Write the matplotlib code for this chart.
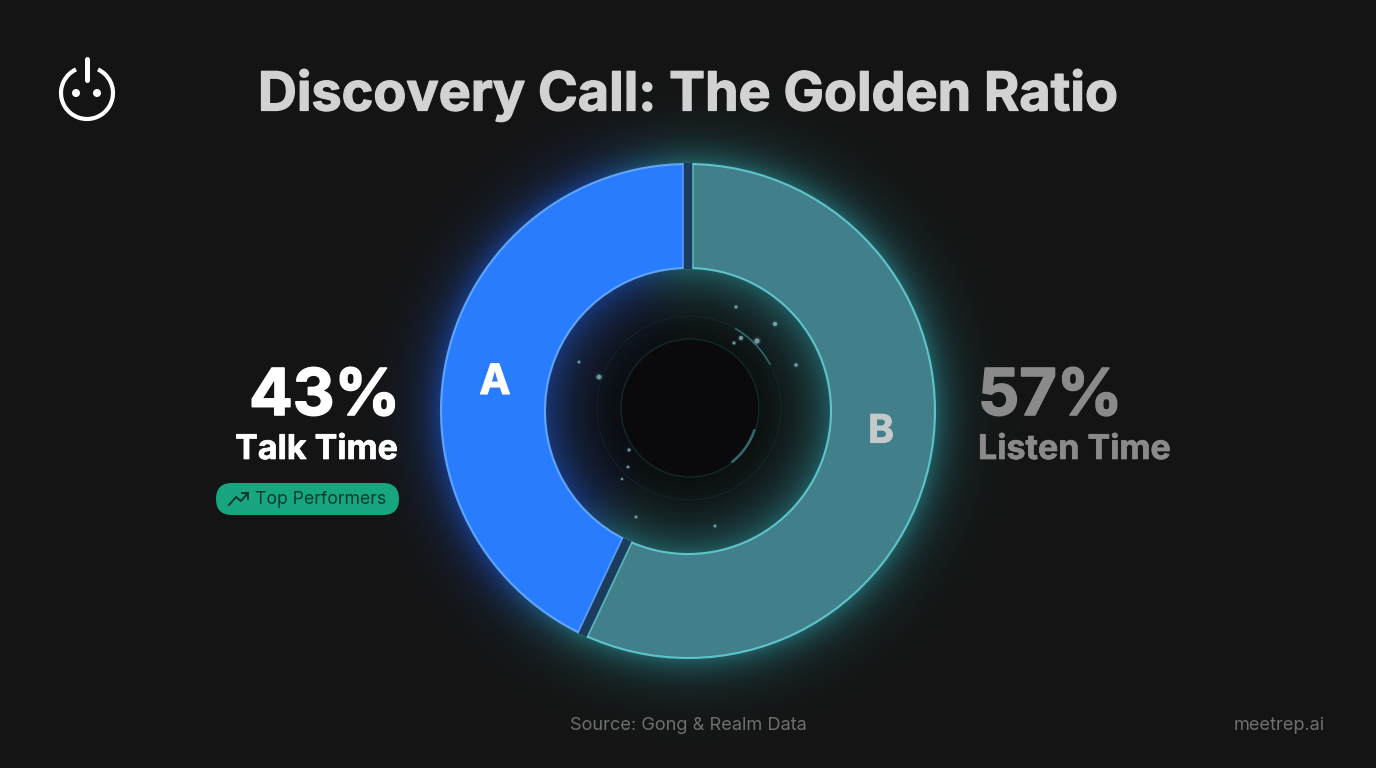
import numpy as np
import matplotlib
matplotlib.use('Agg')
import matplotlib.pyplot as plt
import matplotlib.patheffects as pe
from matplotlib.colors import to_rgba
from matplotlib.patches import Arc, Circle, FancyBboxPatch

W = 1376
H = 768

labels = ['A', 'B']
shares = [43, 57]
names = ['Talk Time', 'Listen Time']
title = 'Discovery Call: The Golden Ratio'
badge = 'Top Performers'
source = 'Source: Gong & Realm Data'
site = 'meetrep.ai'

# little specks in the middle of the hole (x, y in px, size)
specks_x = [599, 741, 757, 775, 736, 734, 796, 579, 629, 628, 622, 636, 715]
specks_y = [377, 338, 341, 324, 307, 343, 365, 362, 450, 467, 479, 517, 526]
specks_s = [12, 9, 14, 9, 5, 5, 6, 4, 5, 4, 3, 4, 4]

cx, cy = 688, 411
R = 247
r_in = 143
blue = '#2a7cff'
teal = '#41808a'
blue_edge = '#6cb2ff'
teal_edge = '#66d4da'

def Y(y):
    return H - y

# thicker letters, Inter bold is lighter than the original face
def heavy(lw=1.0):
    return [pe.Stroke(linewidth=lw), pe.Normal()]

plt.rcParams['font.family'] = ['Inter', 'DejaVu Sans']

fig = plt.figure(figsize=(W / 100, H / 100), dpi=100, facecolor='#141414')
ax = fig.add_axes([0, 0, 1, 1])
ax.set_facecolor('#141414')

# glow round the ring, blue on the A side and teal on the B side
xx, yy = np.meshgrid(np.arange(W) + 0.5, np.arange(H) + 0.5)
dx = xx - cx
dy = cy - yy
rr = np.hypot(dx, dy)
ang = np.degrees(np.arctan2(dy, dx)) % 360
a_start = 90
a_end = 90 + shares[0] * 3.6
mix = np.clip((ang - a_start) / 25, 0, 1) * np.clip((a_end - ang) / 25, 0, 1)
mix = mix[..., None]
glow_col = mix * np.array([28, 95, 235]) + (1 - mix) * np.array([45, 165, 175])
outer = np.exp(-np.clip(rr - R, 0, None) / 20) * 0.5 * (rr >= R)
inner = np.exp(-np.clip(r_in - rr, 0, None) / 28) * 0.47 * (rr <= r_in)
amt = (outer + inner)[..., None]
base = np.array([20, 20, 20]) * (1 - 0.55 * np.exp(-(rr / 105) ** 4))[..., None]
img = base * (1 - amt) + glow_col * amt
ax.imshow(img.astype(np.uint8), extent=(0, W, 0, H), origin='upper', zorder=0, interpolation='bilinear')

# faint rings in the hole
ax.add_patch(Circle((cx + 2, Y(408)), 69, fc='#0a0a0c', ec='#12292c', lw=1, zorder=1))
ax.add_patch(Circle((cx + 1, Y(408)), 92, fc='none', ec='#1c3a40', lw=0.6, alpha=0.45, zorder=1))
ax.add_patch(Arc((cx + 1, Y(408)), 138, 138, theta1=-52, theta2=-18, ec='#4f9ea3', lw=1.8, alpha=0.6, zorder=2))
ax.add_patch(Arc((cx + 1, Y(408)), 184, 184, theta1=28, theta2=60, ec='#3f8f96', lw=1.3, alpha=0.6, zorder=2))
ax.scatter(specks_x, [Y(v) for v in specks_y], s=[v * 3 for v in specks_s], color='#6fc8d2', alpha=0.12, lw=0, zorder=3)
ax.scatter(specks_x, [Y(v) for v in specks_y], s=specks_s, color='#a9e3ea', alpha=0.6, lw=0, zorder=3)

# the ring
wedges, _ = ax.pie(shares, colors=[blue, teal], startangle=90, counterclock=True, center=(cx, Y(cy)), radius=R,
                   wedgeprops=dict(width=R - r_in, lw=0), frame=True)
for w, edge in zip(wedges, [blue_edge, teal_edge]):
    w.set_zorder(4)
    w.set_edgecolor(to_rgba(edge, 0.85))
    w.set_linewidth(1.5)

# gaps between the slices, with a thin bright side on each
for bound, col_l, col_r in [(90, teal_edge, blue_edge), (a_end, blue_edge, teal_edge)]:
    t = np.radians(bound)
    ux, uy = np.cos(t), np.sin(t)
    nx, ny = -uy, ux
    r0, r1 = r_in - 1, R + 1
    xs = [cx + r0 * ux, cx + r1 * ux]
    ys = [Y(cy) + r0 * uy, Y(cy) + r1 * uy]
    ax.plot(xs, ys, color='#1b3c5c', lw=9.5 * 0.72, solid_capstyle='butt', zorder=5)
    for off, c in [(-5.2, col_l), (5.2, col_r)]:
        ax.plot([v + off * nx for v in xs], [v + off * ny for v in ys], color=c, lw=1.3, alpha=0.65,
                solid_capstyle='butt', zorder=6)

ax.text(495, Y(383), labels[0], color='white', fontsize=30, fontweight='bold', ha='center', va='center', zorder=7,
        path_effects=heavy(0.8))
ax.text(881, Y(432), labels[1], color='#c4c9cc', fontsize=28, fontweight='bold', ha='center', va='center', zorder=7,
        path_effects=heavy(0.8))

ax.text(688, Y(95), title, color='#d2d2d2', fontsize=38.8, fontweight='bold', ha='center', va='center',
        path_effects=heavy(0.9))

ax.text(400, Y(398), '%d%%' % shares[0], color='white', fontsize=46.5, fontweight='bold', ha='right', va='center',
        path_effects=heavy(1.2))
ax.text(398, Y(450), names[0], color='white', fontsize=24.5, fontweight='bold', ha='right', va='center',
        path_effects=heavy(0.5))
ax.text(978, Y(398), '%d%%' % shares[1], color='#8a8a8a', fontsize=46.5, fontweight='bold', ha='left', va='center',
        path_effects=heavy(1.2))
ax.text(978, Y(450), names[1], color='#8a8a8a', fontsize=24.5, fontweight='bold', ha='left', va='center',
        path_effects=heavy(0.5))

ax.add_patch(FancyBboxPatch((216 + 16, Y(515) + 16), 183 - 32, 0.01,
                            boxstyle='round,pad=16,rounding_size=16', fc='#17a67f', ec='none', zorder=2))
ax.text(255, Y(500), badge, color='#0d3a30', fontsize=12.7, ha='left', va='center', zorder=3)
ax.plot([229, 236, 241, 248], [Y(505), Y(497), Y(501), Y(493)], color='#0d3a30', lw=1.4, zorder=3)
ax.plot([242, 248, 248], [Y(493), Y(493), Y(499)], color='#0d3a30', lw=1.4, zorder=3)

ax.text(688, Y(725), source, color='#6f6f6f', fontsize=13.1, ha='center', va='center')
ax.text(1325, Y(725), site, color='#6f6f6f', fontsize=13.1, ha='right', va='center')

# logo
ax.add_patch(Arc((87, Y(93)), 52, 52, theta1=115, theta2=65, ec='white', lw=3))
ax.plot([87, 87], [Y(59), Y(80)], color='white', lw=3.6, solid_capstyle='round')
ax.add_patch(Circle((76, Y(93)), 4, fc='white', ec='none'))
ax.add_patch(Circle((97, Y(93)), 4, fc='white', ec='none'))

ax.set_xlim(0, W)
ax.set_ylim(0, H)
ax.set_aspect('auto')
ax.axis('off')

fig.savefig('out.png', dpi=100, facecolor=fig.get_facecolor())
